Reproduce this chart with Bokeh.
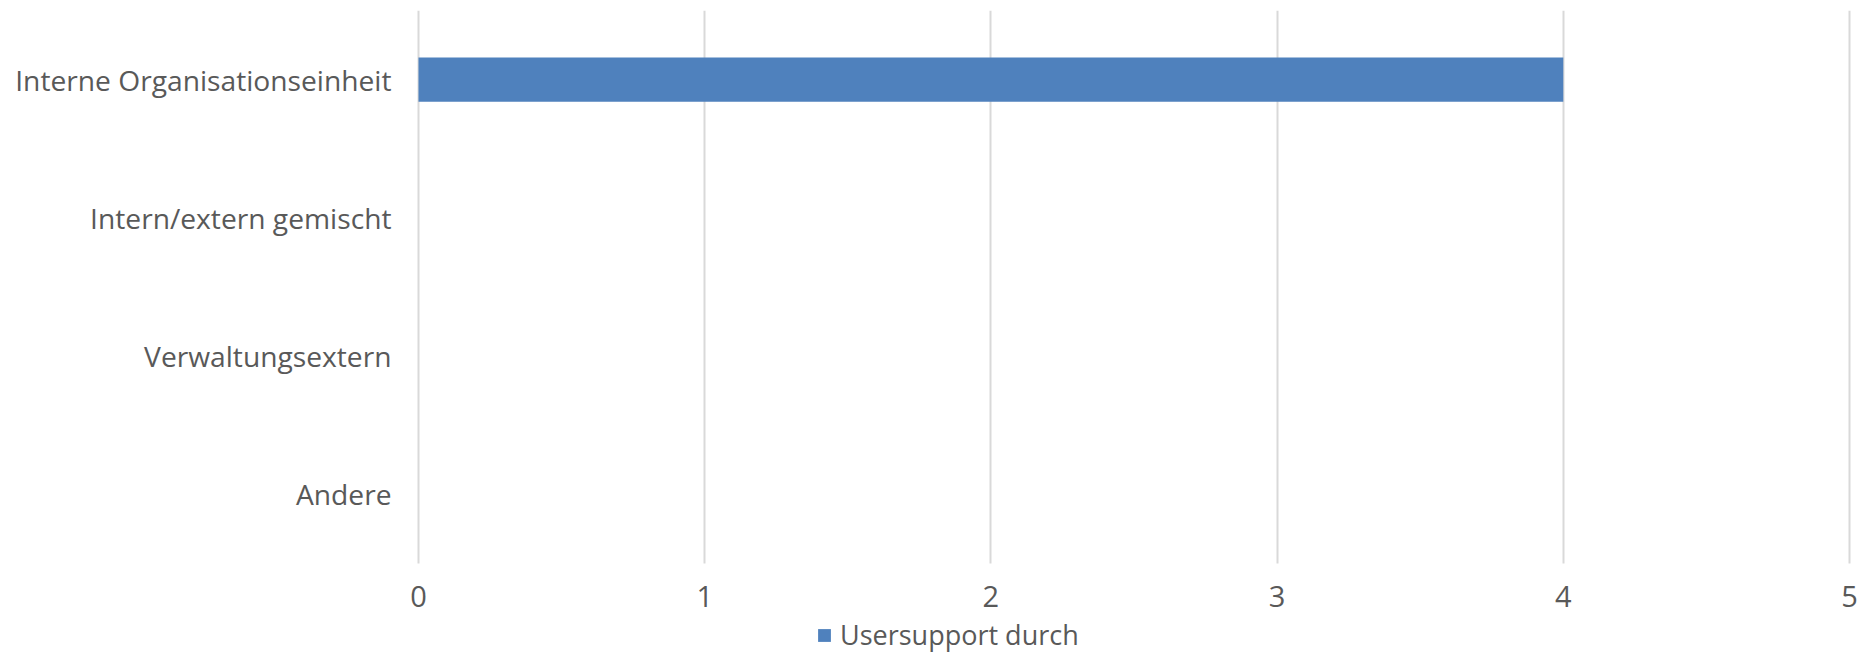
from bokeh.plotting import figure
from bokeh.models import Range1d, Legend, LegendItem, FixedTicker, ColumnDataSource
from bokeh.embed import file_html
from bokeh.resources import INLINE

categories = ["Interne Organisationseinheit", "Intern/extern gemischt", "Verwaltungsextern", "Andere"]
values = [4, 0, 0, 0]
series_name = "Usersupport durch"
x_ticks = [0, 1, 2, 3, 4, 5]

FONT = "Open Sans"
TXT = "#595959"

n = len(categories)
ypos = [n - 1 - i for i in range(n)]          # top-to-bottom order
src = ColumnDataSource(dict(y=ypos, val=values))

# layout (pixels): frame from x=400 to 1858, value 0 at 418 and 5 at 1849
FRAME_L, X0_PX, X5_PX, FIG_W = 400, 418, 1849, 1858
px_per_x = (X5_PX - X0_PX) / (x_ticks[-1] - x_ticks[0])
x_start = x_ticks[0] - (X0_PX - FRAME_L) / px_per_x
x_end = x_ticks[-1] + (FIG_W - X5_PX) / px_per_x

# category area spans -0.5 .. n-0.5 ; extra room below it for tick labels + legend
cat_lo, cat_hi = -0.5, n - 0.5
px_per_unit = 553 / n
y_lo = cat_lo - 90 / px_per_unit

p = figure(width=FIG_W, height=653, output_backend="svg", toolbar_location=None,
           x_range=Range1d(x_start, x_end), y_range=Range1d(y_lo, cat_hi))
p.min_border_left = FRAME_L
p.min_border_right = 0
p.min_border_top = 10
p.min_border_bottom = 0
p.outline_line_color = None

r = p.hbar(y="y", right="val", left=0, height=0.32, source=src,
           fill_color="#4F81BD", line_color=None)

p.xaxis.fixed_location = cat_lo
p.xaxis.ticker = FixedTicker(ticks=x_ticks)
p.xaxis.axis_line_color = None
p.xaxis.major_tick_line_color = None
p.xaxis.minor_tick_line_color = None
p.xaxis.major_label_text_font = FONT
p.xaxis.major_label_text_font_size = "29px"
p.xaxis.major_label_text_color = TXT
p.xaxis.major_label_standoff = 16

p.yaxis.ticker = FixedTicker(ticks=ypos)
p.yaxis.major_label_overrides = {y: c for y, c in zip(ypos, categories)}
p.yaxis.axis_line_color = None
p.yaxis.major_tick_line_color = None
p.yaxis.minor_tick_line_color = None
p.yaxis.major_label_text_font = FONT
p.yaxis.major_label_text_font_size = "28.2px"
p.yaxis.major_label_text_color = TXT
p.yaxis.major_label_standoff = 3

p.ygrid.grid_line_color = None
try:
    p.xgrid.cross_bounds = (cat_lo, cat_hi)
    p.xgrid.grid_line_color = "#D9D9D9"
    p.xgrid.grid_line_width = 2
except Exception:
    p.xgrid.grid_line_color = None
    p.segment(x0=x_ticks, x1=x_ticks, y0=[cat_lo] * len(x_ticks), y1=[cat_hi] * len(x_ticks),
              line_color="#D9D9D9", line_width=2, level="underlay")

legend = Legend(items=[LegendItem(label=series_name, renderers=[r])],
                location=(416, 0), orientation="horizontal",
                padding=0, margin=0, spacing=0,
                glyph_width=16, glyph_height=16, label_standoff=8,
                label_text_font=FONT, label_text_font_size="27px",
                label_text_color=TXT, border_line_color=None,
                background_fill_alpha=0)
p.add_layout(legend, "center")

open("out.html", "w").write(file_html(p, INLINE))
